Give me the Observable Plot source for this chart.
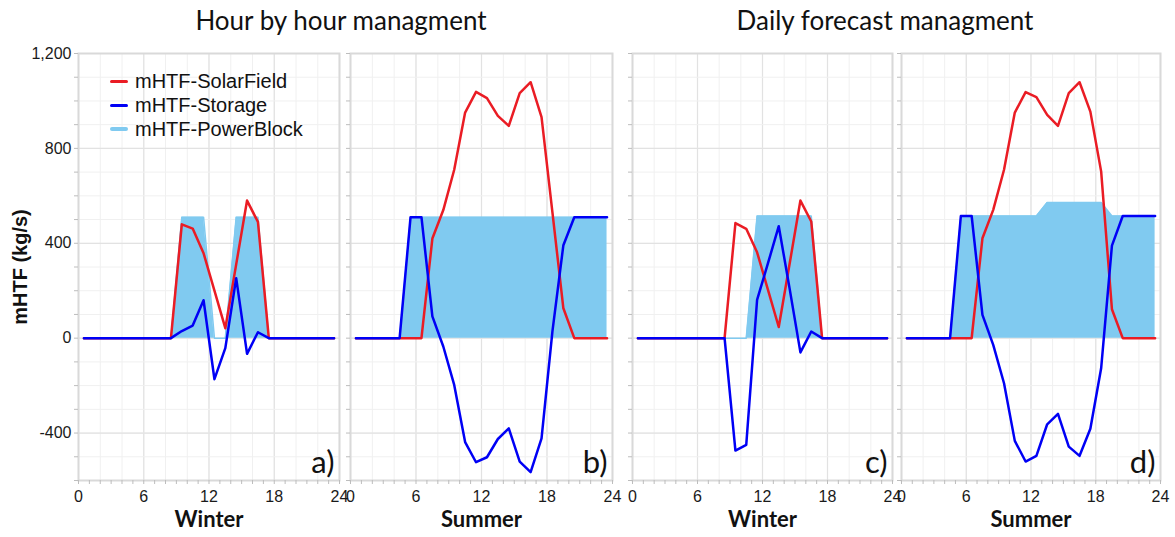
<!DOCTYPE html>
<html>
<head>
<meta charset="utf-8">
<script src="https://cdn.jsdelivr.net/npm/d3@7"></script>
<script src="https://cdn.jsdelivr.net/npm/@observablehq/plot@0.6"></script>
<style>
  html, body { margin: 0; padding: 0; background: #fff; }
  #chart { position: relative; width: 1175px; height: 537px; overflow: hidden; background: #fff; }
  .title { position: absolute; top: 4px; font-family: Lato, "Open Sans", sans-serif; font-size: 26px; color: #111; transform: translateX(-50%); white-space: nowrap; }
  .legend { position: absolute; left: 110px; top: 69px; font-family: "Liberation Sans", Arial, sans-serif; font-size: 20px; color: #111; z-index: 5; }
  .legend .row { display: flex; align-items: center; height: 24px; }
  .legend .sw { display: inline-block; width: 18px; margin-right: 7px; border-radius: 2px; }
</style>
</head>
<body>
<div id="chart"></div>
<script>
// ---- data ----
const hours = [0.5, 1.5, 2.5, 3.5, 4.5, 5.5, 6.5, 7.5, 8.5, 9.5, 10.5, 11.5,
               12.5, 13.5, 14.5, 15.5, 16.5, 17.5, 18.5, 19.5, 20.5, 21.5, 22.5, 23.5];

const seriesNames = ["mHTF-SolarField", "mHTF-Storage", "mHTF-PowerBlock"];
const panelTitles = ["Hour by hour managment", "Daily forecast managment"];
const seasons = ["Winter", "Summer", "Winter", "Summer"];
const panelTags = ["a)", "b)", "c)", "d)"];

// a) Winter, hour by hour
const solarA   = [0, 0, 0, 0, 0, 0, 0, 0, 0, 480, 462, 358, 200, 42, 311, 580, 490, 0, 0, 0, 0, 0, 0, 0];
const storageA = [0, 0, 0, 0, 0, 0, 0, 0, 0, 30, 53, 160, -173, -42, 253, -66, 25, 0, 0, 0, 0, 0, 0, 0];
const powerA   = [0, 0, 0, 0, 0, 0, 0, 0, 0, 510, 510, 510, 0, 0, 510, 510, 510, 0, 0, 0, 0, 0, 0, 0];

// b) Summer, hour by hour
const solarB   = [0, 0, 0, 0, 0, 0, 0, 420, 540, 710, 951, 1038, 1012, 937, 895, 1033, 1079, 932, 529, 126, 0, 0, 0, 0];
const storageB = [0, 0, 0, 0, 0, 510, 510, 92, -35, -197, -438, -523, -502, -425, -380, -520, -565, -422, 30, 392, 510, 510, 510, 510];
const powerB   = [0, 0, 0, 0, 0, 510, 510, 510, 510, 510, 510, 510, 510, 510, 510, 510, 510, 510, 510, 510, 510, 510, 510, 510];

// c) Winter, daily forecast
const solarC   = [0, 0, 0, 0, 0, 0, 0, 0, 0, 485, 461, 362, 205, 47, 313, 580, 492, 0, 0, 0, 0, 0, 0, 0];
const storageC = [0, 0, 0, 0, 0, 0, 0, 0, 0, -474, -450, 161, 315, 472, 210, -60, 28, 0, 0, 0, 0, 0, 0, 0];
const powerC   = [0, 0, 0, 0, 0, 0, 0, 0, 0, 0, 0, 515, 515, 515, 515, 515, 515, 0, 0, 0, 0, 0, 0, 0];

// d) Summer, daily forecast
const solarD   = [0, 0, 0, 0, 0, 0, 0, 421, 541, 710, 951, 1037, 1016, 941, 895, 1033, 1079, 955, 703, 122, 0, 0, 0, 0];
const storageD = [0, 0, 0, 0, 0, 515, 515, 98, -28, -190, -433, -520, -496, -363, -319, -457, -496, -382, -127, 390, 515, 515, 515, 515];
const powerD   = [0, 0, 0, 0, 0, 515, 515, 515, 515, 515, 515, 515, 515, 572, 572, 572, 572, 572, 572, 515, 515, 515, 515, 515];

const xTickLabels = [0, 6, 12, 18, 24];
const yTickLabels = [-400, 0, 400, 800, 1200];

// ---- styling ----
const cSolar = "#ea1c24";
const cStorage = "#0000f5";
const cPower = "#80caf0";
const xMinor = d3.range(0, 25, 2);
const xTickMarks = d3.range(0, 25, 1);
const yMinor = d3.range(-600, 1201, 100);

const chart = document.getElementById("chart");

function panel({frameLeft, frameWidth, solar, storage, power, season, tag, yAxis}) {
  const mL = yAxis ? 78 : 14;
  const mR = 20;
  const data = hours.map((h, i) => ({h, solar: solar[i], storage: storage[i], power: power[i]}));
  const marks = [
    Plot.gridX(xMinor, {stroke: "#f0f0f0", strokeOpacity: 1, strokeWidth: 1}),
    Plot.gridX(xTickLabels, {stroke: "#e2e2e2", strokeOpacity: 1, strokeWidth: 1.2}),
    Plot.gridY(yMinor, {stroke: "#f0f0f0", strokeOpacity: 1, strokeWidth: 1}),
    Plot.gridY(yTickLabels, {stroke: "#e2e2e2", strokeOpacity: 1, strokeWidth: 1.2}),
    Plot.areaY(data, {x: "h", y: "power", fill: cPower}),
    Plot.lineY(data, {x: "h", y: "power", stroke: cPower, strokeWidth: 1.5}),
    Plot.lineY(data, {x: "h", y: "solar", stroke: cSolar, strokeWidth: 2.5}),
    Plot.lineY(data, {x: "h", y: "storage", stroke: cStorage, strokeWidth: 2.5}),
    Plot.frame({stroke: "#d9d9d9", strokeWidth: 2}),
    Plot.axisX(xTickMarks, {tickSize: 4, tickFormat: () => "", label: null, stroke: "#bdbdbd"}),
    Plot.axisX(xTickLabels, {tickSize: 0, tickPadding: 10, label: null, fontSize: 16, fill: "#1a1a1a"}),
    Plot.axisY(yMinor, {tickSize: 4, tickFormat: () => "", label: null, stroke: "#bdbdbd"}),
    Plot.text([season], {frameAnchor: "bottom", dy: 46, fontWeight: "bold", fontSize: 22, fontFamily: "Lato, 'Open Sans', sans-serif", fill: "#111"}),
    Plot.text([tag], {frameAnchor: "bottom-right", dx: -5, dy: -8, textAnchor: "end", lineAnchor: "bottom", fontSize: 31, fontFamily: "Lato, 'Open Sans', sans-serif", fill: "#111"})
  ];
  if (yAxis) {
    marks.push(Plot.axisY(yTickLabels, {tickSize: 0, tickPadding: 7, label: null, fontSize: 16, fill: "#1a1a1a",
      tickFormat: d => d.toLocaleString("en-US")}));
    marks.push(Plot.text(["mHTF (kg/s)"], {frameAnchor: "left", textAnchor: "middle", dx: -58, rotate: -90, fontWeight: "bold", fontSize: 20, fill: "#111"}));
  }
  const p = Plot.plot({
    width: mL + frameWidth + mR,
    height: 497,
    marginTop: 13,
    marginBottom: 57,
    marginLeft: mL,
    marginRight: mR,
    x: {domain: [0, 24]},
    y: {domain: [-600, 1200]},
    style: {
      background: "transparent",
      overflow: "visible",
      position: "absolute",
      left: (frameLeft - mL) + "px",
      top: "40px",
      fontFamily: "'Liberation Sans', Arial, sans-serif",
      fontSize: "16px",
      color: "#111",
      maxWidth: "none"
    },
    marks
  });
  chart.appendChild(p);
}

panel({frameLeft: 78, frameWidth: 261, solar: solarA, storage: storageA, power: powerA, season: seasons[0], tag: panelTags[0], yAxis: true});
panel({frameLeft: 350, frameWidth: 262, solar: solarB, storage: storageB, power: powerB, season: seasons[1], tag: panelTags[1], yAxis: false});
panel({frameLeft: 632, frameWidth: 260, solar: solarC, storage: storageC, power: powerC, season: seasons[2], tag: panelTags[2], yAxis: false});
panel({frameLeft: 901, frameWidth: 259, solar: solarD, storage: storageD, power: powerD, season: seasons[3], tag: panelTags[3], yAxis: false});

// titles
[[panelTitles[0], 341], [panelTitles[1], 885]].forEach(([t, cx]) => {
  const d = document.createElement("div");
  d.className = "title";
  d.style.left = cx + "px";
  d.textContent = t;
  chart.appendChild(d);
});

// legend
const legend = document.createElement("div");
legend.className = "legend";
[[seriesNames[0], cSolar, 3], [seriesNames[1], cStorage, 3], [seriesNames[2], cPower, 4]].forEach(([name, color, th]) => {
  const row = document.createElement("div");
  row.className = "row";
  const sw = document.createElement("span");
  sw.className = "sw";
  sw.style.background = color;
  sw.style.height = th + "px";
  row.appendChild(sw);
  const tx = document.createElement("span");
  tx.textContent = name;
  row.appendChild(tx);
  legend.appendChild(row);
});
chart.appendChild(legend);
</script>
</body>
</html>
